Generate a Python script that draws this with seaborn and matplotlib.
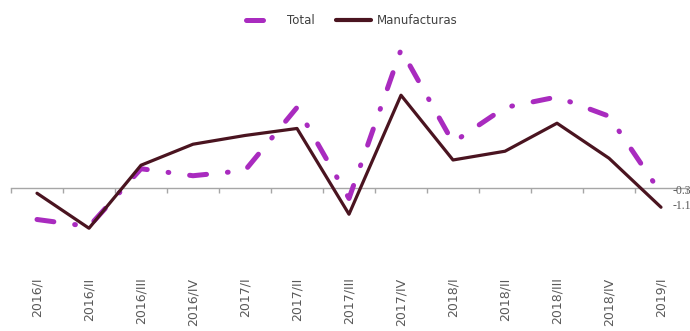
import matplotlib
matplotlib.use("Agg")
import matplotlib.pyplot as plt
import seaborn as sns
import pandas as pd
import numpy as np

categories = ["2016/I", "2016/II", "2016/III", "2016/IV", "2017/I", "2017/II", "2017/III",
              "2017/IV", "2018/I", "2018/II", "2018/III", "2018/IV", "2019/I"]
total = [-1.8, -2.2, 1.1, 0.7, 1.0, 4.6, -0.6, 7.9, 2.6, 4.6, 5.2, 4.1, -0.3]
manufacturas = [-0.3, -2.3, 1.3, 2.5, 3.0, 3.4, -1.5, 5.3, 1.6, 2.1, 3.7, 1.7, -1.1]
series_names = ["Total", "Manufacturas"]
last_labels = ["-0.3", "-1.1"]

df = pd.DataFrame({
    "idx": list(range(len(categories))) * 2,
    "valor": total + manufacturas,
    "serie": [series_names[0]] * len(categories) + [series_names[1]] * len(categories),
})

sns.set_theme(style="white")
plt.rcParams["font.family"] = ["DejaVu Sans"]

fig, ax = plt.subplots(figsize=(6.9, 3.31), dpi=100)
fig.subplots_adjust(left=11/690, right=687/690, bottom=1-272/331, top=1-35/331)

palette = {"Total": "#A92BBF", "Manufacturas": "#4A1420"}
sns.lineplot(data=df, x="idx", y="valor", hue="serie", style="serie",
             hue_order=series_names, style_order=series_names,
             palette=palette,
             dashes={"Total": (3.4, 4.2, 0.15, 4.2), "Manufacturas": ""},
             ax=ax, legend=True)

# style lines
for line in ax.lines:
    c = matplotlib.colors.to_hex(line.get_color()).lower()
    if c == palette["Total"].lower():
        line.set_linewidth(3.6)
        line.set_dash_capstyle("round")
        line.set_solid_capstyle("round")
    else:
        line.set_linewidth(2.3)

ax.set_xlim(-0.5, len(categories) - 0.5)
ax.set_ylim(-4.8, 8.74)
ax.set_xlabel("")
ax.set_ylabel("")
ax.set_yticks([])

for s in ["top", "right", "left"]:
    ax.spines[s].set_visible(False)
ax.spines["bottom"].set_position(("data", 0))
ax.spines["bottom"].set_color("#a6a6a6")
ax.spines["bottom"].set_linewidth(1.0)
ax.spines["bottom"].set_zorder(0)
ax.set_xticks(np.arange(len(categories)))
ax.set_xticks(np.arange(len(categories) + 1) - 0.5, minor=True)
ax.tick_params(axis="x", which="major", length=0, labelbottom=False)
ax.tick_params(axis="x", which="minor", length=3.5, width=1.0, color="#a6a6a6",
               direction="out", bottom=True)

sec = ax.secondary_xaxis(0.0)
sec.set_xticks(np.arange(len(categories)))
sec.set_xticklabels(categories, rotation=90, fontsize=9, color="#595959")
sec.tick_params(length=0, pad=4)
sec.spines["bottom"].set_visible(False)

# end labels
ax.text(len(categories) - 1 + 0.22, total[-1] + 0.1, last_labels[0], fontsize=8.5,
        family="Liberation Serif", color="#595959", va="center", ha="left", clip_on=False)
ax.text(len(categories) - 1 + 0.22, manufacturas[-1] + 0.05, last_labels[1], fontsize=8.5,
        family="Liberation Serif", color="#595959", va="center", ha="left", clip_on=False)

handles, labels = ax.get_legend_handles_labels()
ax.get_legend().remove()
for h in handles:
    c = matplotlib.colors.to_hex(h.get_color()).lower()
    if c == palette["Total"].lower():
        h.set_linewidth(3.6)
        h.set_dash_capstyle("round")
    else:
        h.set_linewidth(3.0)
leg = fig.legend(handles, labels, loc="center", bbox_to_anchor=(0.51, 0.937), ncol=2,
                 frameon=False, fontsize=8.5, handlelength=3.0, columnspacing=1.8,
                 handletextpad=0.5)
for t in leg.get_texts():
    t.set_color("#404040")

fig.savefig("out.png", dpi=100)
